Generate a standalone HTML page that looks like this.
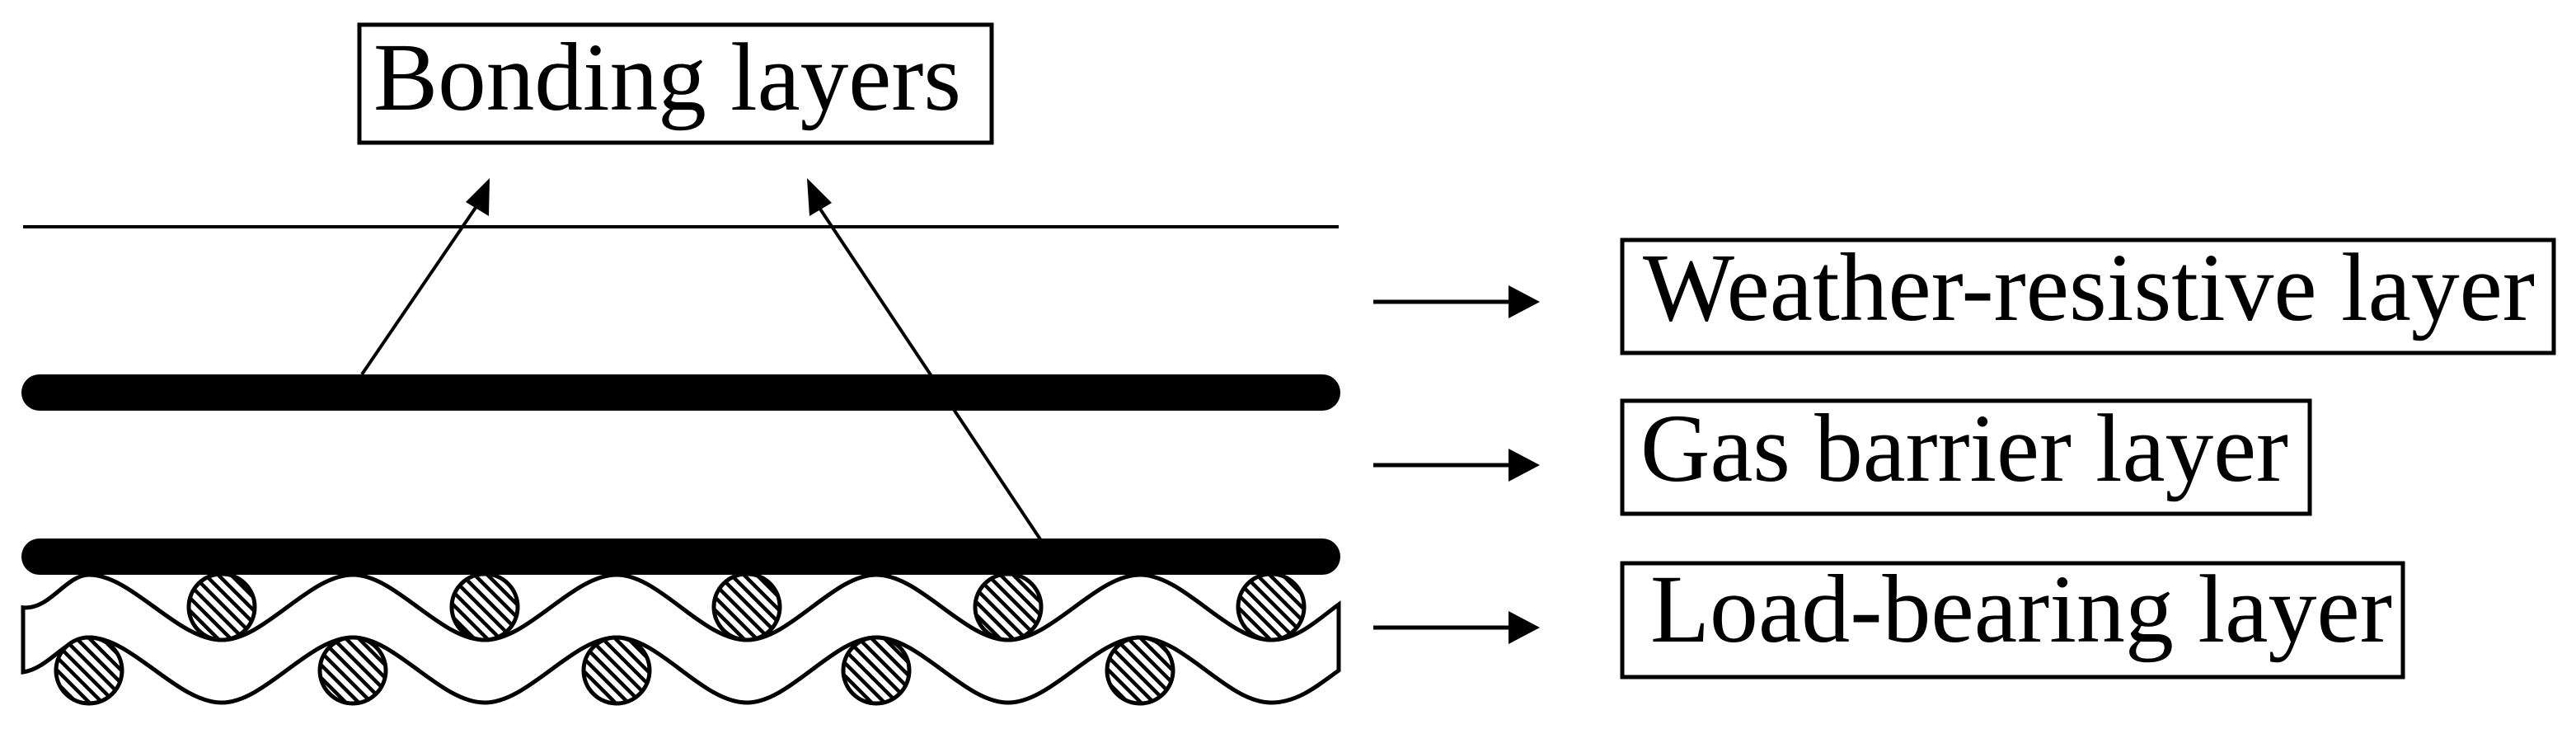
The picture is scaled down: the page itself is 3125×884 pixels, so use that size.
<!DOCTYPE html>
<html><head><meta charset="utf-8"><style>html,body{margin:0;padding:0;background:#fff}svg{display:block}</style></head>
<body>
<svg width="3125" height="884" viewBox="0 0 3125 884" xmlns="http://www.w3.org/2000/svg">
<defs>
<pattern id="h" patternUnits="userSpaceOnUse" width="11" height="11" patternTransform="rotate(-45)">
<rect width="11" height="11" fill="#fff"/>
<rect x="0" y="0" width="4.5" height="11" fill="#000"/>
</pattern>
</defs>
<g font-family="'Liberation Serif', serif" font-size="118" fill="#000">
<rect x="436" y="30" width="767" height="143" fill="none" stroke="#000" stroke-width="5"/>
<text x="453" y="133" textLength="713" lengthAdjust="spacingAndGlyphs">Bonding layers</text>
<rect x="1968" y="291" width="1130" height="137" fill="none" stroke="#000" stroke-width="5"/>
<text x="1993" y="388" textLength="1082" lengthAdjust="spacingAndGlyphs">Weather-resistive layer</text>
<rect x="1968" y="486" width="834" height="137" fill="none" stroke="#000" stroke-width="5"/>
<text x="1990" y="583" textLength="786" lengthAdjust="spacingAndGlyphs">Gas barrier layer</text>
<rect x="1968" y="683" width="947" height="138" fill="none" stroke="#000" stroke-width="5"/>
<text x="2002" y="778" textLength="900" lengthAdjust="spacingAndGlyphs">Load-bearing layer</text>
</g>
<g stroke="#000" stroke-width="5" fill="#000">
<line x1="1666" y1="366" x2="1835" y2="366"/><polygon points="1830,346 1868,366 1830,386" stroke="none"/>
<line x1="1666" y1="564" x2="1835" y2="564"/><polygon points="1830,544 1868,564 1830,584" stroke="none"/>
<line x1="1666" y1="761" x2="1835" y2="761"/><polygon points="1830,741 1868,761 1830,781" stroke="none"/>
</g>
<line x1="28" y1="275" x2="1624" y2="275" stroke="#000" stroke-width="4"/>
<line x1="48" y1="476" x2="1604" y2="476" stroke="#000" stroke-width="44" stroke-linecap="round"/>
<line x1="48" y1="675" x2="1604" y2="675" stroke="#000" stroke-width="44" stroke-linecap="round"/>
<g stroke="#000" stroke-width="4" fill="#000">
<line x1="439" y1="454" x2="585" y2="240"/>
<polygon points="594,216 593,262 565,245" stroke="none"/>
<line x1="1262" y1="654" x2="986" y2="240"/>
<polygon points="979,216 1009,246 982,262" stroke="none"/>
</g>
<path fill="none" stroke="#000" stroke-width="5" d="M28,736.7 
C60,740 80,697 108,697
C160,697 215,776 269,776
C321,776 375,697 428,697
C480,697 534,776 588,776
C641,776 695,697 748,697
C800,697 852,776 906,776
C958,776 1011,697 1063,697
C1116,697 1170,776 1223,776
C1276,776 1330,697 1383,697
C1436,697 1489,776 1542,776
C1575,776 1600,750 1624,733
L1624,813
C1600,830 1575,852 1542,852
C1489,852 1436,773 1383,773
C1330,773 1276,852 1223,852
C1170,852 1116,773 1063,773
C1011,773 958,852 906,852
C852,852 800,773 748,773
C695,773 641,852 588,852
C534,852 480,773 428,773
C375,773 321,852 269,852
C215,852 160,773 108,773
C80,773 60,810 28,815 Z"/>
<g fill="url(#h)" stroke="#000" stroke-width="5">
<circle cx="269" cy="736" r="40"/><circle cx="588" cy="736" r="40"/><circle cx="906" cy="736" r="40"/><circle cx="1223" cy="736" r="40"/><circle cx="1542" cy="736" r="40"/>
<circle cx="108" cy="813" r="40"/><circle cx="428" cy="813" r="40"/><circle cx="748" cy="813" r="40"/><circle cx="1063" cy="813" r="40"/><circle cx="1383" cy="813" r="40"/>
</g>
</svg>
</body></html>
